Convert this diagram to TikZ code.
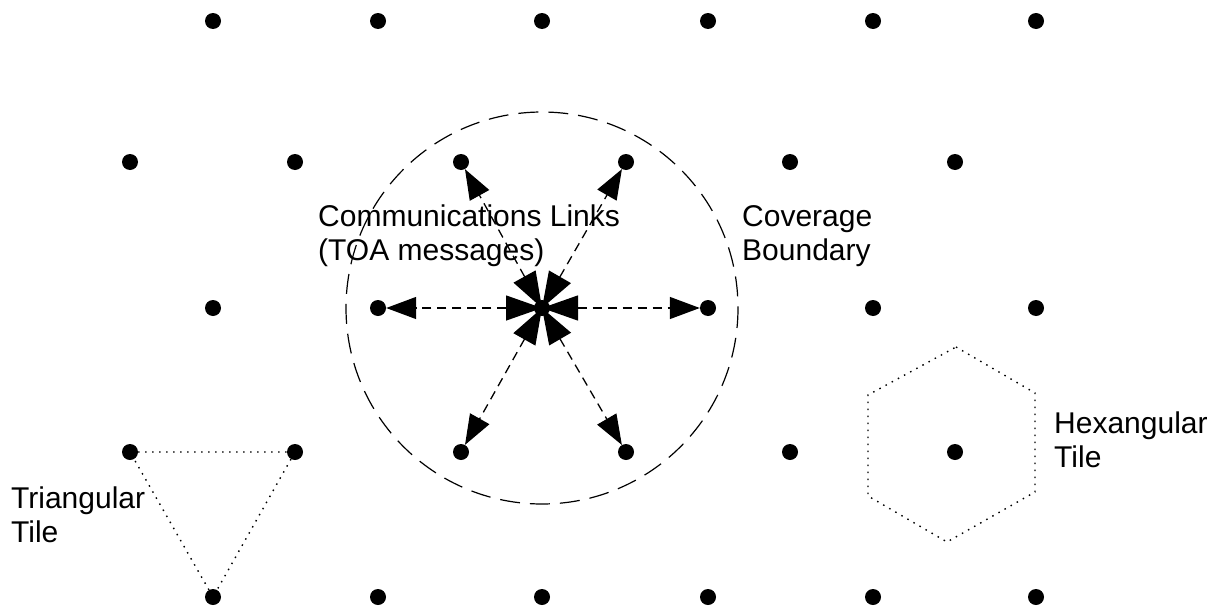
\documentclass[tikz,border=0pt]{standalone}
\usepackage{fontspec}
\setmainfont{Liberation Sans}
\usetikzlibrary{arrows.meta}
\begin{document}
\begin{tikzpicture}[x=1pt,y=-1pt,
  dot/.style={circle,fill=black,inner sep=0pt,minimum size=16pt},
  link/.style={line width=1.3pt,dash pattern=on 9pt off 6pt,
    {Triangle[length=36pt,width=25pt]}-{Triangle[length=30pt,width=22pt]}},
  boundary/.style={line width=1.2pt,dash pattern=on 20pt off 10pt},
  tile/.style={line width=1.4pt,dash pattern=on 1.5pt off 5.5pt},
  label/.style={font=\fontsize{30}{34}\selectfont,align=left,inner sep=0pt,anchor=north west}]
\useasboundingbox (0,0) rectangle (1210,605);
% grid of nodes
\foreach \r/\y in {0/21,2/308,4/597}
  \foreach \c/\x in {0/213,1/378,2/542,3/708,4/873,5/1036}
    \node[dot] (d\r\c) at (\x,\y) {};
\foreach \r/\y in {1/162,3/452}
  \foreach \c/\x in {0/130,1/295,2/461,3/626,4/790,5/955}
    \node[dot] (d\r\c) at (\x,\y) {};
% coverage boundary
\draw[boundary] (d22.center) circle[radius=196];
% communications links
\foreach \n in {d12,d13,d21,d23,d32,d33}
  \draw[link] (d22.center) -- (\n);
% triangular tile
\draw[tile] (d30) -- (d31) -- (d40) -- (d30);
% hexangular tile
\coordinate (h1) at (956,347);
\coordinate (h2) at (1035,393);
\coordinate (h3) at (1035,492);
\coordinate (h4) at (947,542);
\coordinate (h5) at (868,496);
\coordinate (h6) at (868,395);
\draw[tile] (h1) -- (h2) -- (h3) -- (h4) -- (h5) -- (h6) -- cycle;
% labels
\node[label] (comm) at (318,205) {Communications Links\\(TOA messages)};
\node[label] (cov) at (742,205) {Coverage\\Boundary};
\node[label] (hex) at (1054,412) {Hexangular\\Tile};
\node[label] (tri) at (11,487) {Triangular\\Tile};
\end{tikzpicture}
\end{document}
